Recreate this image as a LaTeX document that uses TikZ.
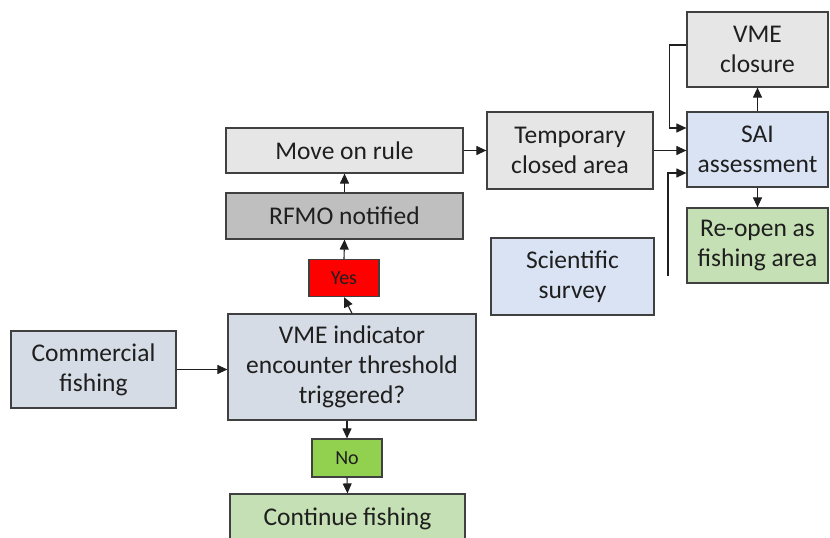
\documentclass[tikz,border=0pt]{standalone}
\usepackage{fontspec}
\setmainfont{Carlito}
\usetikzlibrary{arrows.meta}
\definecolor{boxline}{HTML}{404040}
\definecolor{palegray}{HTML}{E7E6E6}
\definecolor{midgray}{HTML}{BFBFBF}
\definecolor{greyblue}{HTML}{D6DCE5}
\definecolor{paleblue}{HTML}{DAE3F3}
\definecolor{palegreen}{HTML}{C5E0B4}
\definecolor{brightgreen}{HTML}{92D050}
\tikzset{
	stagebox/.style={draw=boxline, line width=1.2pt, inner sep=0pt, align=center, text=black!88,
		font=\fontsize{25.5}{30}\selectfont},
	answerbox/.style={stagebox, font=\fontsize{20}{22}\selectfont},
	flow/.style={line width=1.1pt, color=black!88, -{Triangle[length=10pt,width=9pt]}},
}
\begin{document}
\begin{tikzpicture}[x=1pt, y=1pt]
		%%%%% START %%%%%
		\useasboundingbox (0, 0) rectangle (830, 538);
		
		\node[stagebox, fill=palegray, minimum width=237, minimum height=45] (moverule) at (344.5, 387.5) {Move on rule};
		\node[stagebox, fill=midgray, minimum width=237, minimum height=46] (rfmo) at (344.5, 322) {RFMO notified};
		\node[answerbox, fill=red, minimum width=70, minimum height=37] (yes) at (344, 260) {Yes};
		\node[stagebox, fill=greyblue, minimum width=248, minimum height=106] (trigger) at (352, 171) {VME indicator\\encounter threshold\\triggered?};
		\node[stagebox, fill=greyblue, minimum width=165, minimum height=77] (commercial) at (93.5, 168.5) {Commercial\\fishing};
		\node[answerbox, fill=brightgreen, minimum width=70, minimum height=38] (no) at (347, 80) {No};
		\node[stagebox, fill=palegreen, minimum width=235, minimum height=50] (continue) at (347.5, 19) {Continue fishing};
		
		\node[stagebox, fill=palegray, minimum width=166, minimum height=77] (temporary) at (570, 387.5) {Temporary\\closed area};
		\node[stagebox, fill=paleblue, minimum width=163, minimum height=77] (survey) at (572.5, 261.5) {Scientific\\survey};
		
		\node[stagebox, fill=palegray, minimum width=141, minimum height=75] (closure) at (757.5, 488.5) {VME\\closure};
		\node[stagebox, fill=paleblue, minimum width=141, minimum height=75] (sai) at (757.5, 388.5) {SAI\\assessment};
		\node[stagebox, fill=palegreen, minimum width=141, minimum height=75] (reopen) at (757.5, 292.5) {Re-open as\\fishing area};
		
		% left column
		\draw[flow] (commercial.east) -- (trigger.west |- commercial.east);
		\draw[flow] (trigger.north) -- (yes.south);
		\draw[flow] (yes.north) -- (rfmo.south);
		\draw[flow] (rfmo.north) -- (moverule.south);
		\draw[flow] (trigger.south -| no.north) -- (no.north);
		\draw[flow] (no.south) -- (continue.north);
		
		% towards the assessment
		\draw[flow] (moverule.east) -- (temporary.west |- moverule.east);
		\draw[flow] (temporary.east) -- (sai.west |- temporary.east);
		\draw[flow] ([yshift=4.5]closure.west) -- ++(-17, 0) |- ([yshift=21.5]sai.west);
		\coordinate (surveyline) at (668, 262);
		\draw[flow] (surveyline) |- ([yshift=-23.5]sai.west);
		\draw[flow] (sai.north) -- (closure.south);
		\draw[flow] (sai.south) -- (reopen.north);
		
		%%%%% END %%%%%
	\end{tikzpicture}
\end{document}
